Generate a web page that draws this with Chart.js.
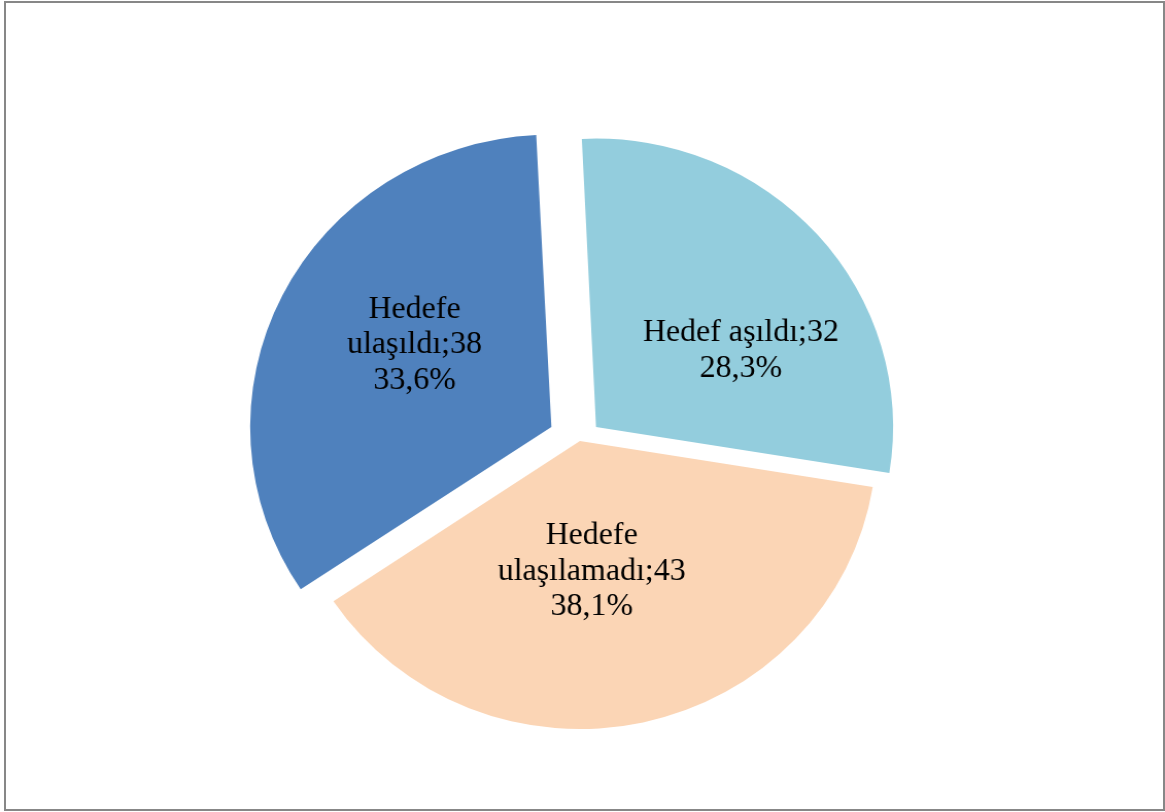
<!DOCTYPE html>
<html>
<head>
<meta charset="utf-8">
<script src="https://cdn.jsdelivr.net/npm/chart.js@4.4.1/dist/chart.umd.min.js"></script>
<style>
  html, body { margin: 0; padding: 0; background: #fff; }
  body { width: 1165px; height: 812px; position: relative; overflow: hidden; }
  #frame {
    position: absolute; left: 4px; top: 1px; width: 1157px; height: 806px;
    border: 2px solid #878787;
  }
  #wrap {
    position: absolute; left: 0; top: 0; width: 1131px; height: 812px;
    transform: scaleX(1.03); transform-origin: 0 0;
  }
</style>
</head>
<body>
<div id="frame"></div>
<div id="wrap"><canvas id="pie" width="1131" height="812"></canvas></div>
<script>
// data
const categories = ["Hedef aşıldı", "Hedefe ulaşılamadı", "Hedefe ulaşıldı"];
const counts = [32, 43, 38];
const percents = ["28,3%", "38,1%", "33,6%"];
// label text lines as shown in the chart
const labelLines = [
  ["Hedef aşıldı;32", "28,3%"],
  ["Hedefe", "ulaşılamadı;43", "38,1%"],
  ["Hedefe", "ulaşıldı;38", "33,6%"]
];

const sliceColors = ["#93CDDD", "#FBD5B5", "#4F81BD"];
const sliceOffsets = [84, 0, 124];
// label anchor: angle (deg from top, clockwise) and distance from slice tip
const labelAnchor = [
  { angle: 61.5, dist: 160 },
  { angle: 175, dist: 131 },
  { angle: 301.6, dist: 156 }
];

const sliceLabels = {
  id: "sliceLabels",
  afterDatasetsDraw(chart) {
    const ctx = chart.ctx;
    const meta = chart.getDatasetMeta(0);
    ctx.save();
    ctx.font = "31px 'Liberation Serif', 'Times New Roman', serif";
    ctx.fillStyle = "#000";
    ctx.textAlign = "center";
    ctx.textBaseline = "middle";
    const lh = 35.5;
    meta.data.forEach((arc, i) => {
      const p = arc.getProps(["x", "y", "startAngle", "endAngle"], true);
      const mid = (p.startAngle + p.endAngle) / 2;
      const shift = (arc.options.offset || 0) / 4;
      const cx = p.x + Math.cos(mid) * shift;
      const cy = p.y + Math.sin(mid) * shift;
      const a = labelAnchor[i].angle * Math.PI / 180;
      const lx = cx + Math.sin(a) * labelAnchor[i].dist;
      const ly = cy - Math.cos(a) * labelAnchor[i].dist;
      const lines = labelLines[i];
      lines.forEach((t, k) => {
        ctx.fillText(t, lx, ly + (k - (lines.length - 1) / 2) * lh);
      });
    });
    ctx.restore();
  }
};

new Chart(document.getElementById("pie"), {
  type: "pie",
  data: {
    labels: categories,
    datasets: [{
      data: counts,
      backgroundColor: sliceColors,
      borderWidth: 0,
      offset: sliceOffsets,
      hoverOffset: 0
    }]
  },
  options: {
    responsive: false,
    animation: false,
    rotation: -2.75,
    radius: 288,
    layout: { padding: { left: 0, right: 5, top: 70, bottom: 0 } },
    events: [],
    plugins: {
      legend: { display: false },
      tooltip: { enabled: false }
    }
  },
  plugins: [sliceLabels]
});
</script>
</body>
</html>
